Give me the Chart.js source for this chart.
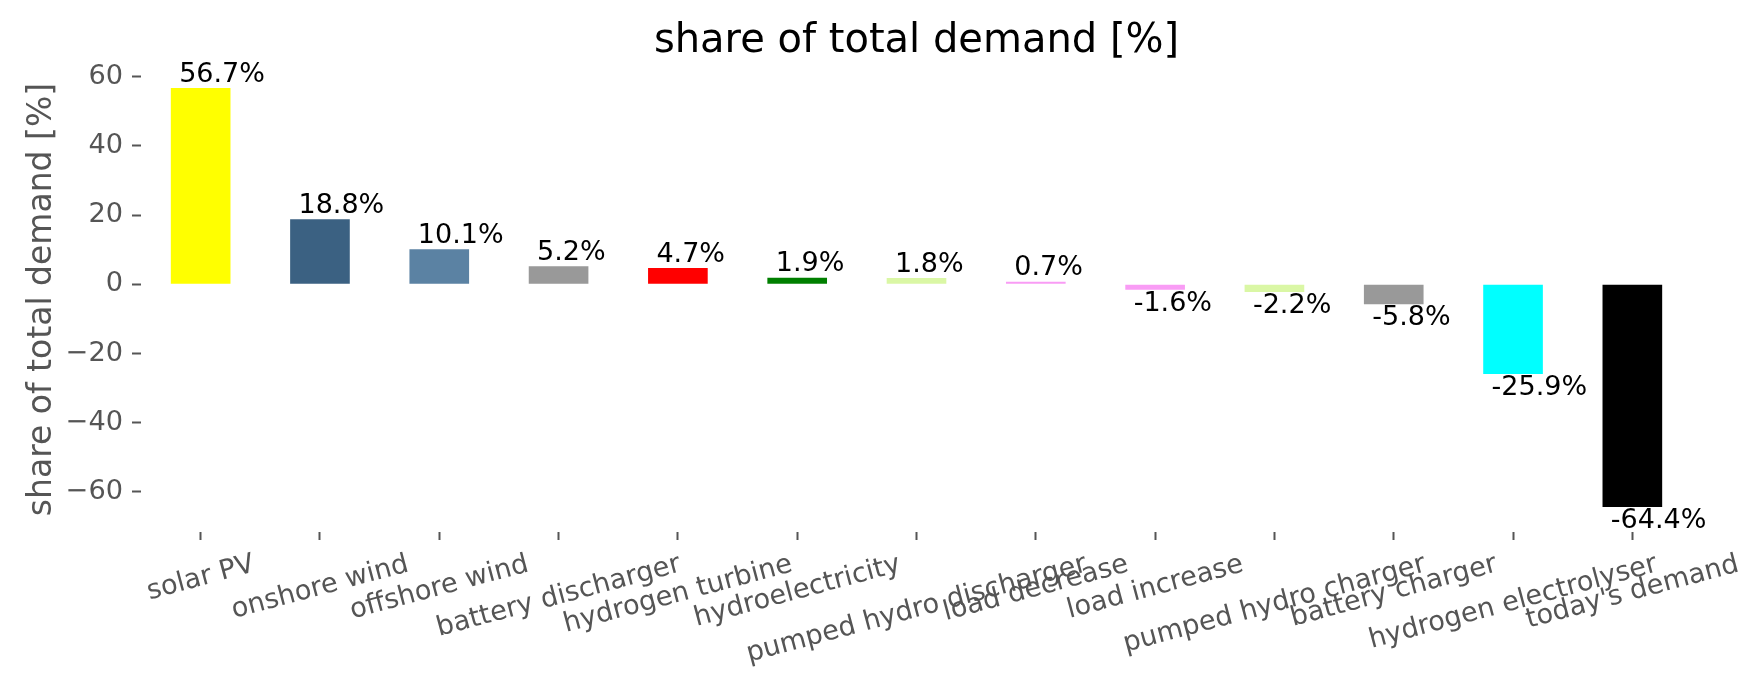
<!DOCTYPE html>
<html>
<head>
<meta charset="utf-8">
<script src="https://cdn.jsdelivr.net/npm/chart.js@4.4.1/dist/chart.umd.min.js"></script>
<style>
html,body{margin:0;padding:0;background:#fff;}
canvas{display:block;}
</style>
</head>
<body>
<canvas id="c" width="1764" height="689" style="width:1764px;height:689px"></canvas>
<script>
const categories = ["solar PV","onshore wind","offshore wind","battery discharger","hydrogen turbine","hydroelectricity","pumped hydro discharger","load decrease","load increase","pumped hydro charger","battery charger","hydrogen electrolyser","today's demand"];
const shares = [56.7, 18.8, 10.1, 5.2, 4.7, 1.9, 1.8, 0.7, -1.6, -2.2, -5.8, -25.9, -64.4];
const barColors = ["#ffff00","#3b6182","#5b82a3","#999999","#ff0000","#007f00","#daf7a5","#f99cf5","#f99cf5","#daf7a5","#999999","#00ffff","#000000"];
const yTicks = [-60, -40, -20, 0, 20, 40, 60];
const titleText = "share of total demand [%]";
const yLabelText = "share of total demand [%]";

const FONT = '"DejaVu Sans", "Liberation Sans", sans-serif';
const GRAY = '#555555';
const TICK_FS = 27.2;

const bgPlugin = {
  id: 'bg',
  beforeDraw(chart) {
    const ctx = chart.ctx;
    ctx.save();
    ctx.fillStyle = '#ffffff';
    ctx.fillRect(0, 0, chart.width, chart.height);
    ctx.restore();
  }
};

const textPlugin = {
  id: 'texts',
  afterDraw(chart) {
    const ctx = chart.ctx;
    const area = chart.chartArea;
    const xs = chart.scales.x;
    ctx.save();
    // title
    ctx.fillStyle = '#000';
    ctx.font = '40px ' + FONT;
    ctx.textAlign = 'center';
    ctx.textBaseline = 'alphabetic';
    ctx.fillText(titleText, (area.left + area.right) / 2, 52);

    // y label
    ctx.save();
    ctx.fillStyle = GRAY;
    ctx.font = '33px ' + FONT;
    ctx.translate(51, (area.top + area.bottom) / 2);
    ctx.rotate(-Math.PI / 2);
    ctx.textAlign = 'center';
    ctx.fillText(yLabelText, 0, 0);
    ctx.restore();

    // x tick labels rotated 15deg, centered
    const fs = TICK_FS;
    const th = 15 * Math.PI / 180;
    const h = 0.968 * fs;
    const d = 0.208 * fs;
    const y0 = 551;
    ctx.fillStyle = GRAY;
    ctx.font = fs + 'px ' + FONT;
    categories.forEach((lab, i) => {
      const x = xs.getPixelForTick(i);
      const w = ctx.measureText(lab).width;
      const H = w * Math.sin(th) + h * Math.cos(th);
      ctx.save();
      ctx.translate(x, y0 + H / 2);
      ctx.rotate(-th);
      ctx.textAlign = 'center';
      ctx.textBaseline = 'alphabetic';
      ctx.fillText(lab, 0, h / 2 - d);
      ctx.restore();
    });

    // bar value labels
    const meta = chart.getDatasetMeta(0);
    const lfs = 27;
    ctx.fillStyle = '#000';
    ctx.font = lfs + 'px ' + FONT;
    ctx.textAlign = 'left';
    ctx.textBaseline = 'alphabetic';
    const spacing = xs.getPixelForTick(1) - xs.getPixelForTick(0);
    meta.data.forEach((bar, i) => {
      const v = shares[i];
      const tx = bar.x - 0.18 * spacing;
      const txt = v.toFixed(1) + '%';
      if (v >= 0) {
        ctx.fillText(txt, tx, bar.y - 0.236 * lfs);
      } else {
        ctx.fillText(txt, tx, bar.y + 0.77 * lfs);
      }
    });
    ctx.restore();
  }
};

new Chart(document.getElementById('c'), {
  type: 'bar',
  data: {
    labels: categories,
    datasets: [{
      data: shares,
      backgroundColor: barColors,
      borderWidth: 0,
      barPercentage: 0.5,
      categoryPercentage: 1.0
    }]
  },
  options: {
    responsive: false,
    devicePixelRatio: 1,
    animation: false,
    events: [],
    layout: { padding: { left: 0, right: 72, top: 67, bottom: 0 } },
    plugins: { legend: { display: false }, title: { display: false }, tooltip: { enabled: false } },
    scales: {
      x: {
        type: 'category',
        offset: true,
        border: { display: false },
        grid: { offset: false, drawOnChartArea: false, drawTicks: true, tickLength: 8, tickWidth: 2, tickColor: GRAY, color: GRAY },
        ticks: { display: false },
        afterFit(scale) { scale.height = 157; }
      },
      y: {
        min: -71.6,
        max: 62.8,
        border: { display: false },
        grid: { drawOnChartArea: false, drawTicks: true, tickLength: 9, tickWidth: 2, tickColor: GRAY, color: GRAY },
        ticks: {
          color: GRAY,
          padding: 9,
          font: { family: FONT, size: TICK_FS },
          callback: (v) => String(v).replace('-', '\u2212')
        },
        afterBuildTicks(scale) { scale.ticks = yTicks.map(v => ({ value: v })); },
        afterFit(scale) { scale.width = 141; }
      }
    }
  },
  plugins: [bgPlugin, textPlugin]
});
</script>
</body>
</html>
